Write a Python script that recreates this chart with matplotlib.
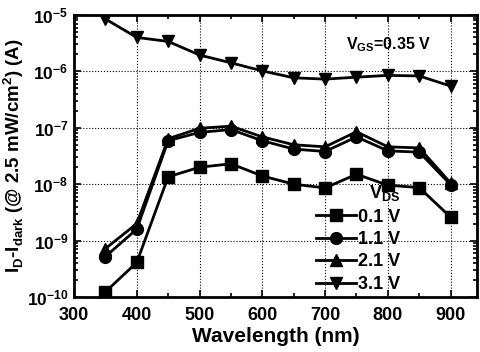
import matplotlib
matplotlib.use("Agg")
import matplotlib.pyplot as plt
from matplotlib.ticker import LogLocator, MultipleLocator, NullFormatter

wavelength = [350, 400, 450, 500, 550, 600, 650, 700, 750, 800, 850, 900]
i_01 = [1.23e-10, 4.1e-10, 1.35e-8, 2.0e-8, 2.3e-8, 1.4e-8, 1.0e-8, 8.6e-9, 1.5e-8, 9.6e-9, 8.7e-9, 2.6e-9]
i_11 = [5.2e-10, 1.6e-9, 5.9e-8, 8.3e-8, 9.3e-8, 5.9e-8, 4.2e-8, 3.8e-8, 6.9e-8, 3.9e-8, 3.7e-8, 9.8e-9]
i_21 = [7.2e-10, 2.0e-9, 6.4e-8, 9.8e-8, 1.07e-7, 6.9e-8, 5.0e-8, 4.6e-8, 8.5e-8, 4.6e-8, 4.4e-8, 1.05e-8]
i_31 = [8.5e-6, 4.0e-6, 3.4e-6, 1.95e-6, 1.42e-6, 1.02e-6, 7.7e-7, 7.3e-7, 7.9e-7, 8.5e-7, 8.3e-7, 5.5e-7]
labels = ["0.1 V", "1.1 V", "2.1 V", "3.1 V"]
markers = ["s", "o", "^", "v"]
xticks = [300, 400, 500, 600, 700, 800, 900]

plt.rcParams['font.family'] = ['Liberation Sans', 'DejaVu Sans']
plt.rcParams['font.weight'] = 'bold'

fig = plt.figure(figsize=(4.81, 3.52), dpi=100)
ax = fig.add_axes([74/481, 1-297/352, (477-74)/481, (297-15)/352])

for ys, lab, mk in zip([i_01, i_11, i_21, i_31], labels, markers):
    ax.plot(wavelength, ys, color='black', lw=2, marker=mk, ms=8.5, label=lab)

ax.set_yscale('log')
ax.set_ylim(1e-10, 1e-5)
ax.set_xlim(300, 942)
ax.set_xticks(xticks)
ax.xaxis.set_minor_locator(MultipleLocator(50))
ax.yaxis.set_major_locator(LogLocator(base=10, numticks=10))
ax.yaxis.set_minor_locator(LogLocator(base=10, subs=range(2, 10), numticks=20))
ax.yaxis.set_minor_formatter(NullFormatter())
ax.grid(True, which='major', color='black', ls=':', lw=0.8)
ax.tick_params(which='both', direction='in', top=True, right=True, width=1.2)
ax.tick_params(axis='x', labelsize=13)
ax.tick_params(axis='y', labelsize=12.5)
ax.tick_params(which='major', length=5)
ax.tick_params(axis='x', which='major', pad=7)
ax.tick_params(axis='y', which='major', pad=4)
ax.tick_params(which='minor', length=3)
for lbl in ax.get_xticklabels() + ax.get_yticklabels():
    lbl.set_fontweight('bold')
for sp in ax.spines.values():
    sp.set_linewidth(2)

ax.set_xlabel('Wavelength (nm)', fontsize=15, fontweight='bold', labelpad=2)
ax.set_ylabel(r'I$_\mathregular{D}$-I$_\mathregular{dark}$ (@ 2.5 mW/cm$^\mathregular{2}$) (A)',
              fontsize=13.5, fontweight='bold')
ax.yaxis.set_label_coords(-0.118, 0.5)

ax.text(0.675, 0.895, r'V$_\mathregular{GS}$=0.35 V', transform=ax.transAxes,
        fontsize=11.5, fontweight='bold', ha='left', va='center')

leg = ax.legend(loc='lower right', bbox_to_anchor=(0.84, -0.03), frameon=False,
                title=r'V$_\mathregular{DS}$', fontsize=13, handlelength=2.2,
                handletextpad=0.1, labelspacing=0.3, borderpad=0.2)
leg.get_title().set_fontsize(13)
leg.get_title().set_fontweight('bold')
leg._legend_box.align = 'right'
for t in leg.get_texts():
    t.set_fontweight('bold')

fig.savefig('out.png', dpi=100)
